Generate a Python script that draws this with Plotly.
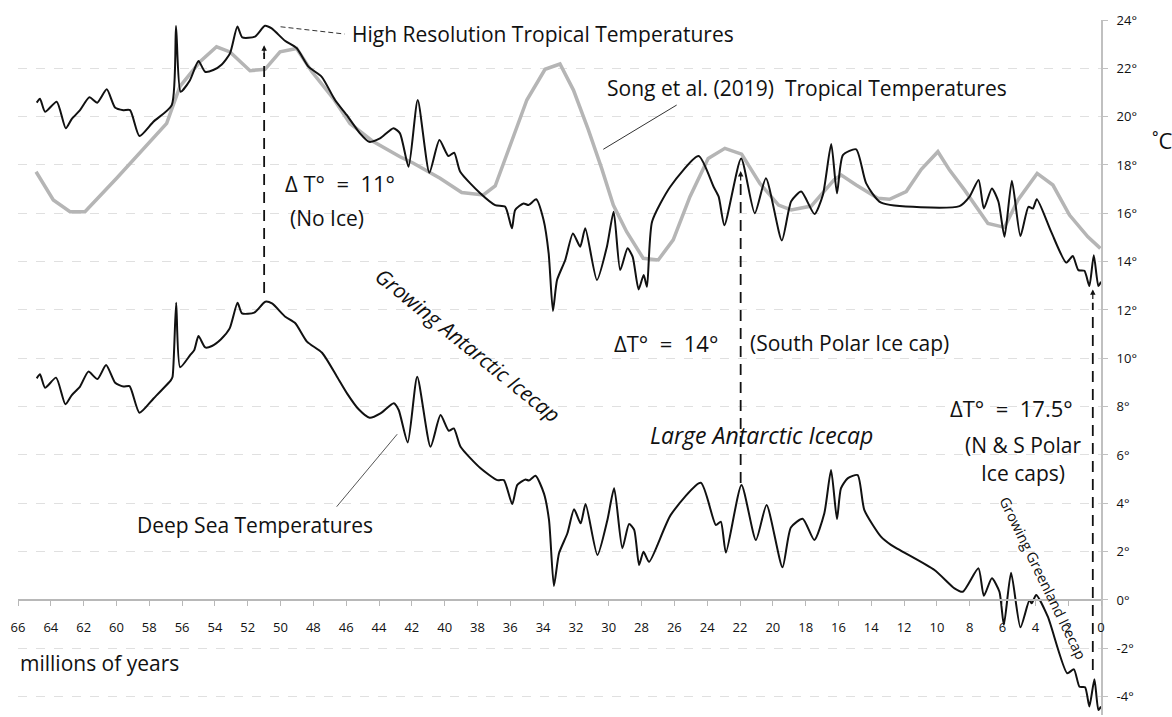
import plotly.graph_objects as go

# ---------------- data ----------------
ds_age = [64.86, 64.66, 64.35, 63.68, 63.11, 62.72, 62.22, 61.71, 61.16, 60.63, 60.08, 59.57, 59.20,
          58.60, 57.74, 56.68, 56.58, 56.36, 56.12, 55.50, 55.26, 55.00, 54.59, 54.18, 53.63, 53.10,
          52.62, 52.35, 51.60, 50.93, 50.52, 49.71, 49.10, 48.39, 47.47, 46.56, 45.95, 45.24, 44.57,
          43.91, 43.10, 42.80, 42.25, 41.67, 40.86, 40.25, 39.75, 39.44, 39.03, 37.81, 36.79, 36.39,
          35.88, 35.57, 35.07, 34.87, 34.46, 33.95, 33.64, 33.34, 33.03, 32.52, 32.11, 31.71, 31.41,
          30.69, 30.08, 29.67, 29.17, 28.76, 28.45, 28.15, 27.88, 27.54, 26.22, 24.39, 23.47, 23.17,
          22.86, 21.91, 21.03, 20.38, 19.41, 18.90, 18.18, 17.47, 16.86, 16.45, 16.09, 15.85, 15.44,
          14.83, 14.42, 13.41, 12.80, 10.15, 8.93, 8.42, 7.47, 7.14, 6.65, 6.19, 5.92, 5.48, 4.91,
          4.36, 4.22, 3.95, 3.24, 2.06, 1.65, 1.31, 0.97, 0.71, 0.40, 0.16, 0.00]
ds_temp = [9.17, 9.34, 8.78, 9.20, 8.10, 8.48, 8.83, 9.45, 9.14, 9.72, 8.99, 8.83, 8.85,
           7.75, 8.34, 9.10, 9.24, 12.30, 9.63, 10.14, 10.34, 10.92, 10.45, 10.51, 10.79, 11.24,
           12.30, 11.86, 11.89, 12.34, 12.27, 11.72, 11.45, 10.69, 10.23, 9.24, 8.55, 7.89, 7.54,
           7.72, 8.14, 7.86, 6.52, 9.24, 6.34, 7.65, 7.00, 7.10, 6.34, 5.45, 4.96, 4.96,
           3.97, 4.76, 4.99, 4.94, 5.14, 4.41, 3.31, 0.58, 1.93, 2.76, 3.75, 3.17, 3.97,
           1.86, 3.31, 4.62, 2.14, 3.14, 2.90, 1.45, 2.00, 1.58, 3.52, 4.85, 3.10, 3.24,
           1.96, 4.76, 2.48, 3.93, 1.35, 3.00, 3.36, 2.48, 3.59, 5.38, 3.34, 4.62, 5.03,
           5.17, 3.72, 2.62, 2.28, 1.24, 0.48, 0.34, 1.31, 0.17, 0.90, 0.34, -1.03, 1.13, -1.13,
           0.00, -0.14, 0.21, -0.69, -3.03, -2.87, -3.59, -3.61, -4.41, -3.28, -4.55, -4.41]

tr_age = [64.86, 64.66, 64.35, 63.64, 63.09, 62.73, 62.22, 61.65, 61.17, 60.59, 60.09, 59.58, 59.17,
          58.60, 57.75, 56.63, 56.37, 56.09, 55.52, 55.00, 54.60, 54.10, 53.58, 53.08, 52.63, 52.33,
          51.56, 50.95, 50.54, 49.73, 49.01, 48.30, 47.49, 46.68, 45.97, 45.16, 44.60, 43.94, 43.12,
          42.72, 42.20, 41.64, 40.93, 40.32, 39.77, 39.42, 39.05, 37.83, 36.92, 36.31, 35.90, 35.70,
          35.19, 34.89, 34.42, 33.97, 33.66, 33.40, 33.15, 32.65, 32.18, 31.74, 31.43, 30.72, 30.11,
          29.70, 29.30, 28.85, 28.54, 28.18, 27.87, 27.67, 27.36, 26.25, 24.52, 23.61, 23.30, 22.95,
          21.93, 21.10, 20.42, 19.45, 18.88, 18.27, 17.46, 16.95, 16.44, 16.09, 15.73, 14.92, 14.31,
          13.40, 8.62, 8.01, 7.46, 7.14, 6.65, 6.25, 5.88, 5.43, 4.91, 4.42, 4.15, 3.91, 3.04,
          2.12, 1.72, 1.38, 1.01, 0.71, 0.44, 0.16, 0.00]
tr_temp = [20.58, 20.74, 20.20, 20.62, 19.52, 19.90, 20.27, 20.80, 20.58, 21.13, 20.38, 20.27, 20.27,
           19.20, 19.79, 20.48, 23.75, 21.03, 21.51, 22.30, 21.86, 21.93, 22.16, 22.62, 23.73, 23.28,
           23.31, 23.76, 23.65, 23.14, 22.83, 22.07, 21.65, 20.69, 20.07, 19.31, 18.96, 19.10, 19.52,
           19.31, 17.93, 20.69, 17.68, 19.03, 18.37, 18.51, 17.72, 16.83, 16.34, 16.27, 15.38, 16.14,
           16.41, 16.34, 16.58, 15.72, 14.34, 11.96, 13.24, 14.07, 15.17, 14.62, 15.38, 13.24, 14.62,
           16.07, 13.65, 14.55, 14.20, 12.85, 13.45, 12.96, 15.65, 17.10, 18.37, 17.10, 16.69, 15.51,
           18.27, 16.00, 17.45, 14.88, 16.50, 16.90, 15.97, 16.76, 18.87, 16.83, 18.41, 18.65, 17.24,
           16.44, 16.30, 16.69, 17.38, 16.20, 17.03, 16.48, 15.03, 17.35, 15.06, 16.27, 16.20, 16.58, 15.24,
           13.96, 14.23, 13.65, 13.62, 12.99, 14.27, 12.99, 13.17]

sg_age = [64.90, 63.85, 62.83, 61.92, 59.99, 56.94, 56.13, 54.91, 53.90, 53.08, 51.86, 50.95, 50.03,
          49.02, 48.10, 46.79, 45.77, 44.35, 42.72, 41.90, 40.28, 38.96, 37.64, 36.92, 34.99, 33.88,
          32.97, 32.15, 31.24, 30.43, 29.72, 28.91, 27.90, 26.98, 26.07, 25.05, 23.94, 22.92, 21.90,
          20.79, 19.65, 18.88, 17.66, 16.24, 15.83, 14.92, 13.60, 12.89, 11.87, 10.95, 9.94, 9.23,
          8.31, 7.70, 6.89, 5.88, 5.06, 3.89, 2.93, 1.92, 0.80, 0.04]
sg_temp = [17.72, 16.55, 16.07, 16.07, 17.45, 19.72, 21.25, 22.27, 22.89, 22.68, 21.90, 21.96, 22.68,
           22.82, 21.87, 20.76, 19.72, 18.97, 18.34, 18.07, 17.45, 16.86, 16.76, 17.13, 20.69, 21.96,
           22.18, 21.10, 19.45, 17.86, 16.34, 15.24, 14.14, 14.07, 14.90, 16.69, 18.27, 18.69, 18.45,
           17.24, 16.34, 16.14, 16.30, 17.41, 17.58, 17.17, 16.62, 16.58, 16.90, 17.82, 18.55, 17.79,
           16.96, 16.34, 15.58, 15.42, 16.55, 17.65, 17.17, 15.93, 15.03, 14.55]

x_ticks = list(range(66, -1, -2))
x_tick_labels = [str(v) for v in x_ticks]
y_ticks = list(range(-4, 25, 2))
y_tick_labels = [f"{v}°" for v in y_ticks]

# markers of the temperature differences: (age, deep-sea end, tropical end)
delta_age = [51.0, 21.96, 0.5]
delta_low = [12.7, 4.84, -2.9]
delta_high = [22.63, 17.38, 12.3]
delta_tip = [22.95, 17.75, 12.85]

Y_MIN, Y_MAX = -4.76, 24.0
FONT = "Open Sans"

fig = go.Figure()

fig.add_trace(go.Scatter(x=sg_age, y=sg_temp, mode="lines",
                         line=dict(color="#b5b5b5", width=3.5), hoverinfo="skip"))
fig.add_trace(go.Scatter(x=tr_age, y=tr_temp, mode="lines",
                         line=dict(color="#111111", width=2, shape="spline", smoothing=0.6),
                         hoverinfo="skip"))
fig.add_trace(go.Scatter(x=ds_age, y=ds_temp, mode="lines",
                         line=dict(color="#111111", width=2, shape="spline", smoothing=0.6),
                         hoverinfo="skip"))

# dashed vertical delta lines
for a, lo, hi in zip(delta_age, delta_low, delta_high):
    fig.add_trace(go.Scatter(x=[a, a], y=[lo, hi], mode="lines",
                             line=dict(color="#111111", width=1.8, dash="11px,7px"),
                             hoverinfo="skip"))

# leader lines
fig.add_trace(go.Scatter(x=[50.0, 46.1], y=[23.72, 23.42], mode="lines",
                         line=dict(color="#333333", width=1, dash="5px,3px"), hoverinfo="skip"))
fig.add_trace(go.Scatter(x=[25.86, 30.33], y=[20.48, 18.65], mode="lines",
                         line=dict(color="#333333", width=1), hoverinfo="skip"))
fig.add_trace(go.Scatter(x=[46.58, 42.89], y=[3.86, 6.86], mode="lines",
                         line=dict(color="#555555", width=1), hoverinfo="skip"))

ann = []
for a, tip in zip(delta_age, delta_tip):
    ann.append(dict(x=a, y=tip, xref="x", yref="y", ax=0, ay=11, axref="pixel", ayref="pixel",
                    showarrow=True, arrowhead=2, arrowsize=0.9, arrowwidth=1.2,
                    arrowcolor="#111111", text=""))


def txt(text, x, y, size=21, xanchor="left", angle=0, italic=False, xref="x", color="#111111"):
    if italic:
        text = f"<i>{text}</i>"
    ann.append(dict(text=text, x=x, y=y, xref=xref, yref="y", xanchor=xanchor, yanchor="middle",
                    showarrow=False, textangle=angle,
                    font=dict(family=FONT, size=size, color=color)))


txt("High Resolution Tropical Temperatures", 45.77, 23.42)
txt("Song et al. (2019)  Tropical Temperatures", 30.23, 21.18)
txt("Δ T°  =  11°", 49.85, 17.25, 22)
txt("(No Ice)", 49.55, 15.8)
txt("ΔT°  =  14°", 29.8, 10.63, 22)
txt("(South Polar Ice cap)", 21.52, 10.63)
txt("ΔT°  =  17.5°", 9.33, 7.94, 22)
txt("(N &amp; S Polar", 4.76, 6.41, 21, xanchor="center")
txt("Ice caps)", 4.76, 5.25, 21, xanchor="center")
txt("Growing Antarctic Icecap", 38.58, 10.55, 21, xanchor="center", angle=39, italic=True)
txt("Large Antarctic Icecap", 20.66, 6.83, 23, xanchor="center", italic=True)
txt("Growing Greenland Icecap", 3.54, 0.87, 14.5, xanchor="center", angle=64)
txt("Deep Sea Temperatures", 58.87, 3.10)
txt("millions of years", 0.0, -2.61, 21, xref="paper")
txt("˚C", 1.045, 19.03, 22, xref="paper")

fig.update_layout(
    width=1172, height=717,
    margin=dict(l=18, r=71, t=20, b=2),
    paper_bgcolor="white", plot_bgcolor="white",
    showlegend=False,
    annotations=ann,
    xaxis=dict(range=[66, 0], tickvals=x_ticks, ticktext=x_tick_labels,
               showgrid=False, zeroline=False, showline=True, linecolor="#b8b8b8", linewidth=1.5,
               ticks="outside", ticklen=5, tickcolor="#b8b8b8", ticklabelstandoff=11,
               anchor="free", position=(0 - Y_MIN) / (Y_MAX - Y_MIN),
               tickfont=dict(family=FONT, size=13, color="#111111")),
    yaxis=dict(range=[Y_MIN, Y_MAX], tickvals=y_ticks, ticktext=y_tick_labels, side="right",
               showgrid=True, gridcolor="#e0e0e0", griddash="dash", gridwidth=1,
               zeroline=False, showline=True, linecolor="#c0c0c0", linewidth=2,
               ticks="outside", ticklen=5, tickcolor="#c0c0c0", ticklabelstandoff=6,
               tickfont=dict(family=FONT, size=13, color="#111111")),
)

fig.write_html("out.html", config={"displayModeBar": False},
               post_script="document.body.style.margin='0';document.body.style.overflow='hidden';")
